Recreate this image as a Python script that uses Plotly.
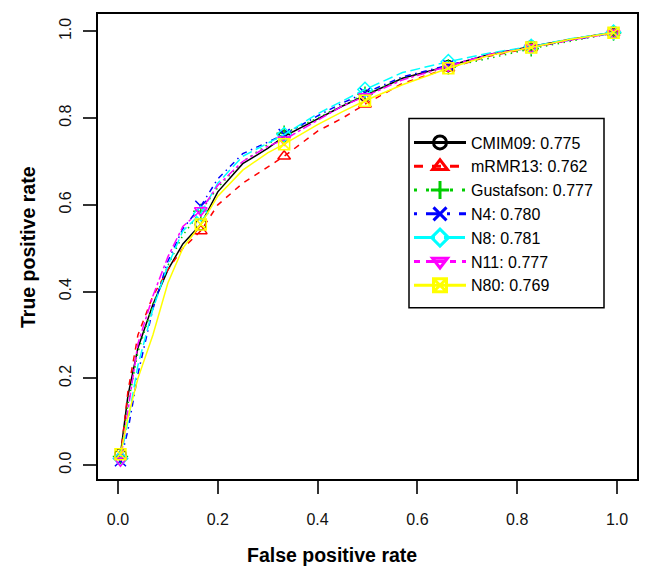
import plotly.graph_objects as go

# ---- data ----
fpr = [0.005, 0.02, 0.04, 0.07, 0.1, 0.13, 0.166, 0.2, 0.25, 0.3, 0.333, 0.4, 0.45,
       0.495, 0.57, 0.662, 0.745, 0.828, 0.907, 0.993]
marker_idx = [0, 6, 10, 13, 15, 17, 19]

cmim09 = [0.025, 0.16, 0.27, 0.37, 0.45, 0.51, 0.555, 0.63, 0.695, 0.73, 0.758, 0.797, 0.828,
          0.852, 0.892, 0.920, 0.947, 0.965, 0.982, 0.998]
mrmr13 = [0.02, 0.17, 0.30, 0.39, 0.45, 0.50, 0.54, 0.60, 0.65, 0.688, 0.712, 0.77, 0.80,
          0.832, 0.880, 0.915, 0.943, 0.962, 0.980, 0.997]
gustafson = [0.02, 0.14, 0.26, 0.37, 0.46, 0.53, 0.585, 0.64, 0.70, 0.74, 0.765, 0.80, 0.83,
             0.855, 0.890, 0.918, 0.938, 0.960, 0.977, 0.996]
n4 = [0.01, 0.08, 0.21, 0.36, 0.47, 0.545, 0.597, 0.66, 0.718, 0.745, 0.762, 0.805, 0.835,
      0.858, 0.895, 0.922, 0.945, 0.963, 0.980, 0.996]
n8 = [0.015, 0.10, 0.23, 0.36, 0.46, 0.54, 0.58, 0.65, 0.712, 0.742, 0.762, 0.81, 0.84,
      0.866, 0.905, 0.930, 0.950, 0.965, 0.983, 0.998]
n11 = [0.01, 0.13, 0.28, 0.39, 0.48, 0.55, 0.587, 0.645, 0.70, 0.735, 0.750, 0.795, 0.828,
       0.850, 0.888, 0.920, 0.947, 0.963, 0.980, 0.996]
n80 = [0.025, 0.11, 0.20, 0.30, 0.42, 0.50, 0.555, 0.62, 0.68, 0.72, 0.740, 0.785, 0.815,
       0.840, 0.877, 0.915, 0.945, 0.963, 0.982, 0.997]

names = ["CMIM09: 0.775", "mRMR13: 0.762", "Gustafson: 0.777", "N4: 0.780",
         "N8: 0.781", "N11: 0.777", "N80: 0.769"]
series = [cmim09, mrmr13, gustafson, n4, n8, n11, n80]
colors = ["#000000", "#FF0000", "#00CD00", "#0000FF", "#00FFFF", "#FF00FF", "#FFFF00"]
dashes = ["solid", "6px,6px", "1.5px,4.5px", "1.5px,4.5px,6px,4.5px",
          "10px,4.5px", "3px,3px,9px,3px", "solid"]
symbols = ["circle-open", "triangle-up-open", "cross-thin-open", "x-thin-open",
           "diamond-open", "triangle-down-open", "square-x-open"]
legend_dashes = ["solid", "9px,9px", "3px,9px", "3px,9px,12px,9px",
                 "21px,9px", "6px,6px,18px,6px", "solid"]

xticks = [0.0, 0.2, 0.4, 0.6, 0.8, 1.0]
yticks = [0.0, 0.2, 0.4, 0.6, 0.8, 1.0]

FONT = "Liberation Sans, Arial, sans-serif"

fig = go.Figure()
for name, ys, c, d, s in zip(names, series, colors, dashes, symbols):
    fig.add_trace(go.Scatter(x=fpr, y=ys, mode="lines", showlegend=False,
                             line=dict(color=c, width=1.5, dash=d), hoverinfo="skip"))
    fig.add_trace(go.Scatter(x=[fpr[i] for i in marker_idx], y=[ys[i] for i in marker_idx],
                             mode="markers", showlegend=False,
                             marker=dict(symbol=s, size=11, color=c, line=dict(color=c, width=1.5))))
for name, c, d, s in zip(names, colors, legend_dashes, symbols):
    fig.add_trace(go.Scatter(x=[None], y=[None], mode="lines+markers", name=name,
                             line=dict(color=c, width=3, dash=d),
                             marker=dict(symbol=s, size=13, color=c, line=dict(color=c, width=3))))

# the page body has an 8px margin; the figure is sized so the plot frame lands
# on the reference's pixel positions
OFF = 8
W, H = 642, 571
L, R, T, B = 90, 13, 4, 100
pw, ph = W - L - R, H - T - B

def px_x(p):
    return (p - OFF - L) / pw

def px_y(p):
    return (H - B - (p - OFF)) / ph

fig.update_layout(
    width=W, height=H,
    margin=dict(l=L, r=R, t=T, b=B),
    paper_bgcolor="white", plot_bgcolor="white",
    font=dict(family=FONT, size=16, color="black"),
    xaxis=dict(range=[-0.04, 1.04], tickvals=xticks, ticktext=[f"{v:.1f}" for v in xticks],
               showgrid=False, zeroline=False, showline=True, mirror=True,
               linecolor="black", linewidth=1.5, ticks="outside", ticklen=13,
               tickwidth=1.5, tickcolor="#333333", ticklabelstandoff=12,
               tickfont=dict(size=16, family=FONT, color="#111111")),
    yaxis=dict(range=[-0.032, 1.04], tickvals=yticks, ticktext=[f"{v:.1f}" for v in yticks],
               showgrid=False, zeroline=False, showline=True, mirror=True,
               linecolor="black", linewidth=1.5, ticks="outside", ticklen=13,
               tickwidth=1.5, tickcolor="#333333", tickangle=-90, ticklabelstandoff=6,
               tickfont=dict(size=16, family=FONT, color="#111111")),
    legend=dict(x=px_x(409), y=px_y(124), xanchor="left", yanchor="top",
                bgcolor="rgba(0,0,0,0)", borderwidth=0,
                font=dict(size=16, family=FONT, color="black"), itemwidth=52,
                tracegroupgap=0),
    shapes=[
        dict(type="rect", xref="paper", yref="paper",
             x0=px_x(409), x1=px_x(604), y0=px_y(307), y1=px_y(117),
             fillcolor="white", line=dict(color="black", width=1.5), layer="above"),
    ],
    annotations=[
        dict(text="<b>False positive rate</b>", xref="paper", yref="paper",
             x=px_x(332), y=px_y(555), xanchor="center", yanchor="middle",
             showarrow=False, font=dict(size=19.5, family=FONT, color="black")),
        dict(text="<b>True positive rate</b>", xref="paper", yref="paper",
             x=px_x(28), y=px_y(246), xanchor="center", yanchor="middle", textangle=-90,
             showarrow=False, font=dict(size=19.5, family=FONT, color="black")),
    ],
)

fig.write_html("out.html")
